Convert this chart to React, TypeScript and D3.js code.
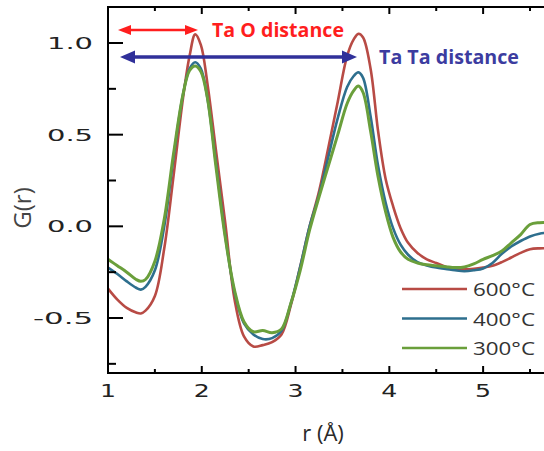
import React from "react";
import * as d3 from "d3";

const rValues = [1.0, 1.1, 1.2, 1.3, 1.35, 1.4, 1.5, 1.6, 1.7, 1.8, 1.87, 1.93, 1.99, 2.06, 2.15, 2.25, 2.35, 2.45, 2.55, 2.65, 2.75, 2.85, 2.95, 3.05, 3.15, 3.25, 3.35, 3.45, 3.55, 3.62, 3.67, 3.72, 3.8, 3.88, 3.96, 4.04, 4.12, 4.2, 4.3, 4.4, 4.5, 4.6, 4.7, 4.8, 4.9, 5.0, 5.1, 5.2, 5.3, 5.4, 5.5, 5.6, 5.7];

const g600 = [-0.34, -0.40, -0.445, -0.47, -0.475, -0.46, -0.38, -0.12, 0.28, 0.70, 0.93, 1.047, 0.99, 0.78, 0.42, 0.02, -0.40, -0.60, -0.655, -0.648, -0.632, -0.59, -0.43, -0.22, 0.0, 0.19, 0.43, 0.68, 0.93, 1.02, 1.05, 1.03, 0.86, 0.52, 0.26, 0.11, -0.01, -0.09, -0.145, -0.18, -0.20, -0.22, -0.232, -0.235, -0.232, -0.225, -0.215, -0.195, -0.17, -0.145, -0.125, -0.12, -0.12];

const g400 = [-0.225, -0.26, -0.30, -0.335, -0.345, -0.33, -0.24, 0.0, 0.38, 0.72, 0.86, 0.895, 0.86, 0.70, 0.35, -0.05, -0.36, -0.53, -0.59, -0.615, -0.61, -0.57, -0.42, -0.22, 0.0, 0.17, 0.38, 0.59, 0.76, 0.82, 0.84, 0.81, 0.60, 0.33, 0.13, -0.01, -0.10, -0.155, -0.195, -0.213, -0.225, -0.232, -0.24, -0.245, -0.24, -0.23, -0.20, -0.15, -0.11, -0.08, -0.055, -0.04, -0.035];

const g300 = [-0.18, -0.215, -0.25, -0.29, -0.30, -0.29, -0.19, 0.04, 0.40, 0.72, 0.85, 0.875, 0.845, 0.70, 0.33, -0.06, -0.35, -0.52, -0.575, -0.568, -0.58, -0.56, -0.42, -0.24, -0.02, 0.16, 0.33, 0.50, 0.67, 0.74, 0.765, 0.73, 0.52, 0.27, 0.08, -0.06, -0.14, -0.18, -0.20, -0.21, -0.215, -0.22, -0.225, -0.222, -0.205, -0.18, -0.16, -0.135, -0.09, -0.045, 0.01, 0.02, 0.02];

const seriesNames = ["600°C", "400°C", "300°C"];
const seriesColors = ["#b84b45", "#2e6f8e", "#6a9f3b"];

const xMajor = [1, 2, 3, 4, 5];
const xMinor = [1.5, 2.5, 3.5, 4.5, 5.5];
const yMajor = [-0.5, 0.0, 0.5, 1.0];
const yMinor = [-0.75, -0.25, 0.25, 0.75];
const yTickLabels = ["-0.5", "0.0", "0.5", "1.0"];

export default function App() {
  const x = d3.scaleLinear().domain([1, 5.5]).range([108, 530]);
  const y = d3.scaleLinear().domain([-0.5, 1.0]).range([318, 43]);
  const left = 108, right = 544, top = 7, bottom = 373;

  const seriesData = [g600, g400, g300];
  const line = d3
    .line<[number, number]>()
    .x((d) => x(d[0]))
    .y((d) => y(d[1]))
    .curve(d3.curveCatmullRom.alpha(0.5));

  const tickFont = "DejaVu Sans, sans-serif";

  return (
    <svg width={544} height={451} style={{ position: "absolute", left: 0, top: 0, background: "#fff" }}>
      <defs>
        <clipPath id="plot">
          <rect x={left} y={top} width={right - left} height={bottom - top} />
        </clipPath>
      </defs>
      <rect x={0} y={0} width={544} height={451} fill="#fff" />
      <g clipPath="url(#plot)">
        {seriesData.map((vals, i) => (
          <path
            key={i}
            d={line(rValues.map((r, j) => [r, vals[j]] as [number, number])) || ""}
            fill="none"
            stroke={seriesColors[i]}
            strokeWidth={i === 2 ? 3 : 2.6}
            strokeLinejoin="round"
          />
        ))}
      </g>
      {/* axes */}
      <g stroke="#000" strokeWidth={2} fill="none">
        <line x1={left} x2={right} y1={top} y2={top} />
        <line x1={left} x2={right} y1={bottom} y2={bottom} />
        <line x1={left} x2={left} y1={top - 1} y2={bottom + 1} />
        {xMajor.map((t) => (
          <g key={"xm" + t}>
            <line x1={x(t)} x2={x(t)} y1={top} y2={top + 7} />
            <line x1={x(t)} x2={x(t)} y1={bottom} y2={bottom - 7} />
          </g>
        ))}
        {xMinor.map((t) => (
          <g key={"xn" + t}>
            <line x1={x(t)} x2={x(t)} y1={top} y2={top + 4} />
            <line x1={x(t)} x2={x(t)} y1={bottom} y2={bottom - 4} />
          </g>
        ))}
        {yMajor.map((t) => (
          <line key={"ym" + t} x1={left} x2={left + 15} y1={y(t)} y2={y(t)} />
        ))}
        {yMinor.map((t) => (
          <line key={"yn" + t} x1={left} x2={left + 8} y1={y(t)} y2={y(t)} />
        ))}
      </g>
      {/* tick labels */}
      <g fill="#222" fontFamily={tickFont}>
        {xMajor.map((t) => (
          <text key={"xl" + t} x={x(t)} y={397} fontSize={18} textAnchor="middle" textLength={16} lengthAdjust="spacingAndGlyphs">
            {String(t)}
          </text>
        ))}
        {yMajor.map((t, i) => {
          const w = yTickLabels[i].startsWith("-") ? 60 : 46;
          return (
            <text key={"yl" + t} x={93 - w} y={y(t) + 6} fontSize={16} textLength={w} lengthAdjust="spacingAndGlyphs">
              {yTickLabels[i]}
            </text>
          );
        })}
      </g>
      {/* axis titles */}
      <text x={323} y={441} fontSize={22} textAnchor="middle" fill="#2a2a2a" fontFamily="Open Sans, sans-serif">
        r (Å)
      </text>
      <text transform="translate(31,208) rotate(-90)" fontSize={24} textAnchor="middle" fill="#444" fontFamily="Open Sans, sans-serif">
        G(r)
      </text>
      {/* annotations */}
      <g>
        <line x1={128} x2={188} y1={30} y2={30} stroke="#ff1e1e" strokeWidth={2.5} />
        <path d="M118,30 L131,25 L131,35 Z" fill="#ff1e1e" />
        <path d="M198,30 L185,25 L185,35 Z" fill="#ff1e1e" />
        <text x={212} y={37} fontSize={19} fontWeight="bold" fill="#ff1e1e" fontFamily="Open Sans, sans-serif" textLength={132} lengthAdjust="spacingAndGlyphs">
          Ta O distance
        </text>
        <line x1={132} x2={344} y1={57} y2={57} stroke="#30309a" strokeWidth={3.5} />
        <path d="M120,57 L135,50.5 L135,63.5 Z" fill="#30309a" />
        <path d="M357,57 L342,50.5 L342,63.5 Z" fill="#30309a" />
        <text x={379} y={64} fontSize={19} fontWeight="bold" fill="#3c3ca0" fontFamily="Open Sans, sans-serif" textLength={140} lengthAdjust="spacingAndGlyphs">
          Ta Ta distance
        </text>
      </g>
      {/* legend */}
      <g>
        {seriesNames.map((name, i) => {
          const ly = 289 + i * 29.5;
          return (
            <g key={name}>
              <line x1={402} x2={467} y1={ly} y2={ly} stroke={seriesColors[i]} strokeWidth={2.6} />
              <text x={473} y={ly + 7} fontSize={18} fill="#333" fontFamily="Open Sans, sans-serif" textLength={62} lengthAdjust="spacingAndGlyphs">
                {name}
              </text>
            </g>
          );
        })}
      </g>
    </svg>
  );
}
